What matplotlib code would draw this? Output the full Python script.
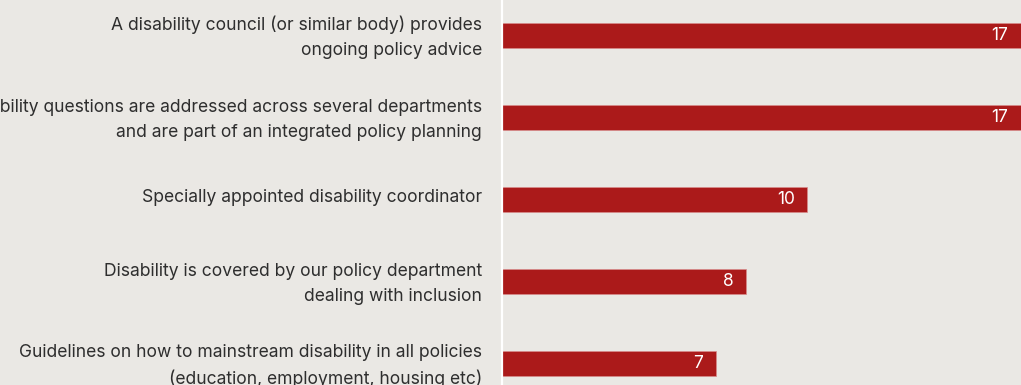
import matplotlib.pyplot as plt
from matplotlib.transforms import ScaledTranslation

# policy arrangements and the number of respondents reporting each
categories = [
    "A disability council (or similar body) provides\nongoing policy advice",
    "Disability questions are addressed across several departments\nand are part of an integrated policy planning",
    "Specially appointed disability coordinator",
    "Disability is covered by our policy department\ndealing with inclusion",
    "Guidelines on how to mainstream disability in all policies\n(education, employment, housing etc)",
]
counts = [17, 17, 10, 8, 7]

bg = "#eae8e4"
bar_color = "#ab1a1a"

plt.rcParams["font.family"] = ["Inter", "DejaVu Sans"]

fig = plt.figure(figsize=(10.21, 3.85), dpi=100, facecolor=bg)
ax = fig.add_axes([502 / 1021, 0, 519 / 1021, 1])
ax.set_facecolor(bg)

ypos = list(range(len(categories)))
bars = ax.barh(ypos, counts, height=0.31, color=bar_color,
               edgecolor="#d88c8c", linewidth=0.5)

for bar, n in zip(bars, counts):
    ax.annotate(str(n), (bar.get_width(), bar.get_y() + bar.get_height() / 2),
                xytext=(-9, 0), textcoords="offset points",
                ha="right", va="center", color="white", fontsize=12.5)

ax.set_xlim(0, 17)
ax.set_ylim(4.262, -0.433)
ax.set_yticks(ypos)
ax.set_yticklabels(categories, fontsize=12.6, color="#2e2e2e", linespacing=1.62)
ax.tick_params(axis="y", length=0, pad=14.5)
ax.set_xticks([])

# lift the category labels a little above the bar centres
lift = ScaledTranslation(0, 4 / 100, fig.dpi_scale_trans)
for label in ax.get_yticklabels():
    label.set_transform(label.get_transform() + lift)

for side in ("top", "right", "bottom"):
    ax.spines[side].set_visible(False)
ax.spines["left"].set_color("white")
ax.spines["left"].set_linewidth(1.6)

fig.savefig("out.png", dpi=100, facecolor=bg)
